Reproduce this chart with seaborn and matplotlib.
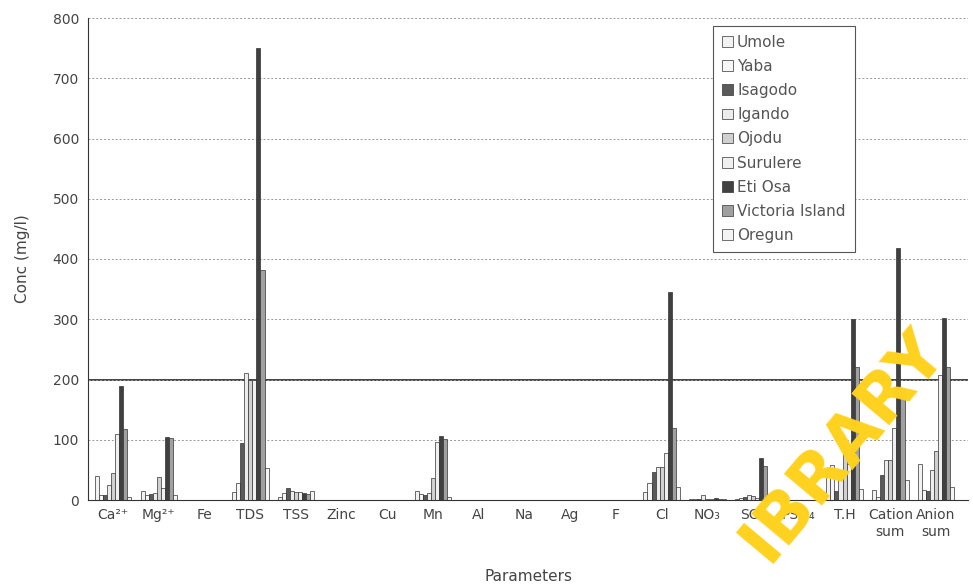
import matplotlib
matplotlib.use("Agg")
import matplotlib.pyplot as plt
import seaborn as sns
import pandas as pd

parameters = ["Ca²⁺", "Mg²⁺", "Fe", "TDS", "TSS", "Zinc", "Cu", "Mn", "Al", "Na",
              "Ag", "F", "Cl", "NO₃", "SO₄", "PSO₄", "T.H", "Cation\nsum", "Anion\nsum"]
locations = ["Umole", "Yaba", "Isagodo", "Igando", "Ojodu", "Surulere",
             "Eti Osa", "Victoria Island", "Oregun"]

umole    = [40, 15, 0.5, 13, 5, 0.3, 0.2, 15, 0.2, 0.5, 0.1, 0.3, 13, 1, 2, 0.5, 45, 17, 60]
yaba     = [8, 8, 0.5, 28, 12, 0.3, 0.2, 10, 0.2, 0.5, 0.1, 0.3, 28, 1, 3, 0.5, 58, 5, 17]
isagodo  = [8, 10, 0.5, 95, 20, 0.3, 0.2, 8, 0.2, 0.5, 0.1, 0.3, 47, 2, 5, 0.5, 15, 42, 15]
igando   = [25, 12, 0.5, 211, 15, 0.3, 0.2, 12, 0.2, 0.5, 0.1, 0.3, 55, 8, 8, 0.5, 48, 66, 50]
ojodu    = [45, 38, 0.5, 200, 14, 0.3, 0.2, 36, 0.2, 0.5, 0.1, 0.3, 55, 2, 6, 0.5, 82, 66, 82]
surulere = [110, 20, 0.5, 200, 13, 0.3, 0.2, 97, 0.2, 0.5, 0.1, 0.3, 78, 1, 4, 0.5, 60, 120, 207]
eti_osa  = [189, 105, 0.5, 750, 12, 0.3, 0.2, 107, 0.2, 0.5, 0.1, 0.3, 345, 3, 70, 0.5, 300, 418, 302]
victoria = [118, 103, 0.5, 382, 10, 0.3, 0.2, 102, 0.2, 0.5, 0.1, 0.3, 120, 2, 57, 0.5, 220, 185, 220]
oregun   = [5, 8, 0.5, 53, 15, 0.3, 0.2, 5, 0.2, 0.5, 0.1, 0.3, 22, 1, 8, 0.5, 18, 33, 22]

series = [umole, yaba, isagodo, igando, ojodu, surulere, eti_osa, victoria, oregun]
colors = ["#f2f2f2", "#f7f7f7", "#5a5a5a", "#ececec", "#d0d0d0", "#f0f0f0",
          "#404040", "#a0a0a0", "#f4f4f4"]

rows = []
for loc, vals in zip(locations, series):
    for p, v in zip(parameters, vals):
        rows.append({"Parameter": p, "Location": loc, "Conc": v})
df = pd.DataFrame(rows)

sns.set_style("white")
plt.rcParams["font.family"] = ["DejaVu Sans"]

fig = plt.figure(figsize=(9.73, 5.86), dpi=100)
ax = fig.add_axes([88/973, 1 - 500/586, 880/973, 482/586])

sns.barplot(data=df, x="Parameter", y="Conc", hue="Location", order=parameters,
            hue_order=locations, palette=colors, edgecolor="#333333", linewidth=0.5,
            width=0.8, ax=ax, errorbar=None)

ax.set_ylim(0, 800)
ax.set_xlim(-0.55, len(parameters) - 0.3)
ax.set_yticks(range(0, 801, 100))
ax.yaxis.grid(True, linestyle=(0, (2, 2)), color="#999999", linewidth=0.7)
ax.set_axisbelow(True)
ax.axhline(200, color="#222222", linewidth=1.2, zorder=0.5)

for s in ["top", "right"]:
    ax.spines[s].set_visible(False)
ax.spines["left"].set_color("#333333")
ax.spines["bottom"].set_color("#333333")
ax.tick_params(axis="both", labelsize=10, colors="#444444", length=3)
ax.tick_params(axis="x", length=0, pad=6)

ax.set_xlabel("Parameters", fontsize=11, color="#444444", labelpad=22)
ax.set_ylabel("Conc (mg/l)", fontsize=11, color="#444444", labelpad=16)

leg = ax.legend(loc="upper left", bbox_to_anchor=(617/880, 1.0), frameon=True,
                fontsize=11, handlelength=0.7, handleheight=0.7, handletextpad=0.3,
                labelspacing=0.6, borderpad=0.6, fancybox=False, framealpha=1,
                title=None)
leg.get_frame().set_edgecolor("#555555")
leg.get_frame().set_linewidth(0.8)
for t in leg.get_texts():
    t.set_color("#555555")

fig.text(843/973, 1 - 445/586, "IBRARY", rotation=50, fontsize=49,
         fontweight="semibold", color="#FFD21F", ha="center", va="center", zorder=10)

fig.savefig("out.png", dpi=100)
